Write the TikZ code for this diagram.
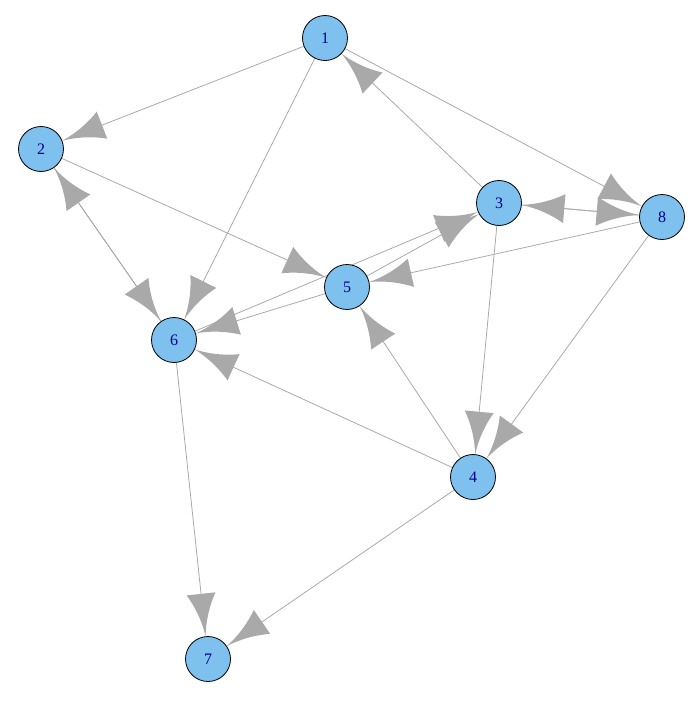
\documentclass[tikz,border=0pt]{standalone}
\usepackage{fontspec}
\setmainfont{Liberation Serif}
\usepackage{xcolor}
\usepackage{tikz}
\usetikzlibrary{arrows.meta,backgrounds}

\definecolor{vfill}{HTML}{7EC0EE}
\definecolor{vlabel}{HTML}{00008B}
\definecolor{egray}{HTML}{A9A9A9}

% filled head with concave sides
\pgfdeclarearrow{
  name = igtip,
  parameters = {\the\pgfarrowlength,\the\pgfarrowwidth},
  setup code = {
    \pgfarrowssettipend{0pt}
    \pgfarrowssetlineend{-.5\pgfarrowlength}
    \pgfarrowssetbackend{-\pgfarrowlength}
    \pgfarrowsupperhullpoint{-\pgfarrowlength}{.5\pgfarrowwidth}
    \pgfarrowshullpoint{0pt}{0pt}
    \pgfarrowssavethe\pgfarrowlength
    \pgfarrowssavethe\pgfarrowwidth
  },
  drawing code = {
    \pgfpathmoveto{\pgfqpoint{0pt}{0pt}}
    \pgfpathcurveto{\pgfqpoint{-.4\pgfarrowlength}{.07\pgfarrowwidth}}{\pgfqpoint{-.75\pgfarrowlength}{.28\pgfarrowwidth}}{\pgfqpoint{-\pgfarrowlength}{.5\pgfarrowwidth}}
    \pgfpathlineto{\pgfqpoint{-\pgfarrowlength}{-.5\pgfarrowwidth}}
    \pgfpathcurveto{\pgfqpoint{-.75\pgfarrowlength}{-.28\pgfarrowwidth}}{\pgfqpoint{-.4\pgfarrowlength}{-.07\pgfarrowwidth}}{\pgfqpoint{0pt}{0pt}}
    \pgfpathclose
    \pgfusepathqfill
  },
  defaults = {length = 43pt, width = 29pt}
}

\tikzset{
  vertex/.style={circle, draw=black, line width=0.8pt, fill=vfill, minimum size=45pt,
    inner sep=0pt, outer sep=0pt, text=vlabel, font=\fontsize{16}{16}\selectfont},
  dedge/.style={draw=egray, line width=0.8pt, -{igtip}}
}

\begin{document}
\begin{tikzpicture}[x=1pt, y=-1pt]
    \useasboundingbox (0,0) rectangle (697,701);

    \node[vertex] (v1) at (325,38) {1};
    \node[vertex] (v2) at (41,149) {2};
    \node[vertex] (v3) at (499,203) {3};
    \node[vertex] (v4) at (473,477) {4};
    \node[vertex] (v5) at (347,287) {5};
    \node[vertex] (v6) at (174,340) {6};
    \node[vertex] (v7) at (208,659) {7};
    \node[vertex] (v8) at (662,217) {8};

    \begin{scope}[on background layer]
    \draw[dedge] (v1) -- (v2);
    \draw[dedge] (v1) -- (v6);
    \draw[dedge] (v1) -- (v8);
    \draw[dedge] (v3) -- (v1);
    \draw[dedge] (v2) -- (v5);
    \draw[dedge] (v2) -- (v6);
    \draw[dedge] (v6) -- (v2);
    \draw[dedge] (v3) -- (v4);
    \draw[dedge] (v3) -- (v8);
    \draw[dedge] (v8) -- (v3);
    \draw[dedge] (v5) -- (v3);
    \draw[dedge] (v6) -- (v3);
    \draw[dedge] (v5) -- (v6);
    \draw[dedge] (v8) -- (v5);
    \draw[dedge] (v8) -- (v4);
    \draw[dedge] (v4) -- (v5);
    \draw[dedge] (v4) -- (v6);
    \draw[dedge] (v4) -- (v7);
    \draw[dedge] (v6) -- (v7);
    \end{scope}
\end{tikzpicture}
\end{document}
